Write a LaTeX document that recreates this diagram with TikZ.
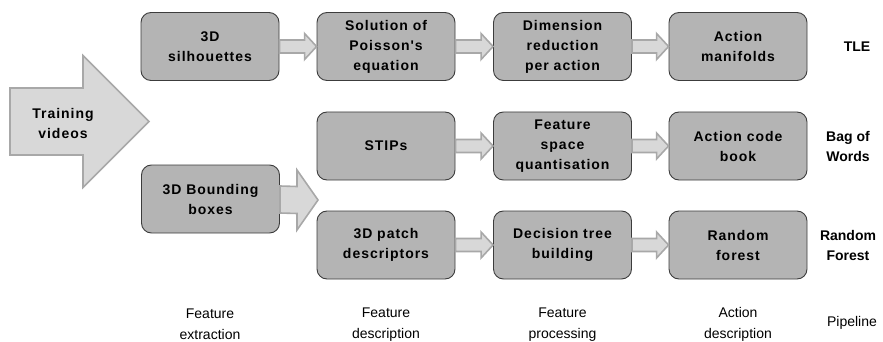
\documentclass[tikz,border=0pt]{standalone}
\usepackage{fontspec}
\setmainfont{Liberation Sans}
\newfontfamily\boxfont[LetterSpace=7]{Liberation Sans}
\usetikzlibrary{calc}
\definecolor{boxfill}{HTML}{B4B4B4}
\definecolor{boxline}{HTML}{3C3C3C}
\definecolor{arrfill}{HTML}{D8D8D8}
\definecolor{arrline}{HTML}{A8A8A8}
\begin{document}
\begin{tikzpicture}[x=1pt,y=-1pt,
  stepbox/.style={draw=boxline,fill=boxfill,line width=0.9pt,rounded corners=10pt,
    minimum width=138pt,minimum height=68pt,align=center,inner sep=0pt,
    font=\boxfont\bfseries\fontsize{14}{20}\selectfont},
  blockarr/.style={draw=arrline,fill=arrfill,line width=1.6pt,line join=miter},
  rowlabel/.style={align=center,font=\bfseries\fontsize{14}{20}\selectfont},
  collabel/.style={align=center,font=\fontsize{14}{21}\selectfont}]
\useasboundingbox (0,0) rectangle (883,342);
% big input arrow
\coordinate (tv) at (10,121.5);
\coordinate (tvtip) at (149,121.5);
\draw[blockarr] ($(tv)+(0,-33.5)$) -- ($(tv)+(73,-33.5)$) -- ($(tv)+(73,-66)$) -- (tvtip)
  -- ($(tv)+(73,66)$) -- ($(tv)+(73,33.5)$) -- ($(tv)+(0,33.5)$) -- cycle;
\node[rowlabel,font=\boxfont\bfseries\fontsize{14}{20}\selectfont] (tvl) at (63,123) {Training\\videos};
% boxes
\node[stepbox] (a1) at (210,46.5) {3D\\silhouettes};
\node[stepbox] (a2) at (386,46.5) {Solution of\\Poisson's\\equation};
\node[stepbox] (a3) at (562.5,46.5) {Dimension\\reduction\\per action};
\node[stepbox] (a4) at (738,46.5) {Action\\manifolds};
\node[stepbox] (b2) at (386,146) {STIPs};
\node[stepbox] (b3) at (562.5,146) {Feature\\space\\quantisation};
\node[stepbox] (b4) at (738,146) {Action code\\book};
\node[stepbox] (bb) at (210.5,199) {3D Bounding\\boxes};
\node[stepbox] (c2) at (386,245) {3D patch\\descriptors};
\node[stepbox] (c3) at (562.5,245) {Decision tree\\building};
\node[stepbox] (c4) at (738,245) {Random\\forest};
% small block arrows
\foreach \s/\t in {a1/a2,a2/a3,a3/a4,b2/b3,b3/b4,c2/c3,c3/c4}{
  \draw[blockarr] ($(\s.east)+(0,-6.5)$) -- ($(\t.west)+(-12,-6.5)$) -- ($(\t.west)+(-12,-13)$)
    -- (\t.west) -- ($(\t.west)+(-12,13)$) -- ($(\t.west)+(-12,6.5)$) -- ($(\s.east)+(0,6.5)$) -- cycle;
}
% bounding box arrow
\coordinate (bbtip) at (318,200);
\draw[blockarr] ($(bb.east)+(0,-13)$) -- ($(bbtip)+(-21,-13.5)$) -- ($(bbtip)+(-21,-30)$) -- (bbtip)
  -- ($(bbtip)+(-21,30)$) -- ($(bbtip)+(-21,13.5)$) -- ($(bb.east)+(0,14)$) -- cycle;
% row labels
\node[rowlabel] (r1) at (857,46.5) {TLE};
\node[rowlabel] (r2) at (848,146) {Bag of\\Words};
\node[rowlabel] (r3) at (848,245) {Random\\Forest};
% column labels
\node[collabel] (k1) at (210,324.5) {Feature\\extraction};
\node[collabel] (k2) at (386,324.5) {Feature\\description};
\node[collabel] (k3) at (562.5,324.5) {Feature\\processing};
\node[collabel] (k4) at (738,324.5) {Action\\description};
\node[collabel] (k5) at (852,323) {Pipeline};
\end{tikzpicture}
\end{document}
